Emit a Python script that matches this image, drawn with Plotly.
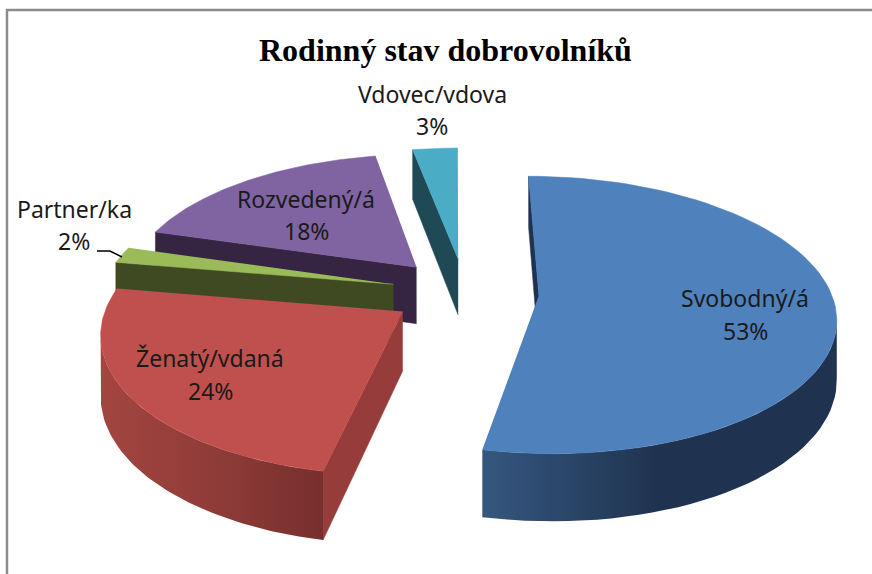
import numpy as np
import plotly.graph_objects as go

categories = ["Svobodný/á", "Ženatý/vdaná", "Partner/ka", "Rozvedený/á", "Vdovec/vdova"]
values = [53.3, 24.4, 1.9, 17.5, 2.9]
top_colors = ["#4f81bd", "#c0504d", "#9bbb59", "#8064a2", "#4bacc6"]
side_colors = ["#1f3350", "#963d3b", "#3f4a23", "#352542", "#1f4a55"]
wall_gradients = [
    ["#35577f", "#1f3350", "#1f3350"],
    ["#a4453f", "#8f3c39", "#772f2d"],
    ["#3f4a23", "#3f4a23", "#3f4a23"],
    ["#352542", "#352542", "#352542"],
    ["#1f4a55", "#1f4a55", "#1f4a55"],
]
title_text = "Rodinný stav dobrovolníků"
name_xy = [(745, 298), (210, 358), (74, 209), (306, 199), (432, 94)]
pct_xy = [(745, 331), (210, 391), (74, 241), (306, 231), (432, 126)]

# projection of the tilted disc
W, H = 872, 574
VX, CX, CY = 455, 465, 292
D, A, R, E, DEPTH = 2096.0, 969.0, 292.0, 74.0, 58.0
VY = CY - A


def project(x, z, drop=0.0):
    s = D / (D + z)
    return VX + (x + CX - VX) * s, VY + (A + drop) * s


def area(xs, ys):
    return 0.5 * sum(xs[i] * ys[(i + 1) % len(xs)] - xs[(i + 1) % len(xs)] * ys[i] for i in range(len(xs)))


fig = go.Figure()
fracs = np.array(values) / sum(values)
ends = np.cumsum(fracs) * 360
starts = ends - fracs * 360


def poly(xs, ys, color, grad=None):
    kw = dict(x=list(xs), y=list(ys), mode="lines", line=dict(width=0.5, color=color),
              fill="toself", hoverinfo="skip", showlegend=False)
    if grad is None:
        kw["fillcolor"] = color
    else:
        kw["fillgradient"] = dict(type="horizontal", colorscale=[[0, grad[0]], [0.5, grad[1]], [1, grad[2]]])
        kw["line"] = dict(width=0)
    fig.add_trace(go.Scatter(**kw))


for i in [4, 3, 2, 1, 0]:
    a0, a1 = np.radians(starts[i]), np.radians(ends[i])
    mid = (a0 + a1) / 2
    ox, oz = E * np.sin(mid), E * np.cos(mid)
    th = np.linspace(a0, a1, 80)
    ax, az = ox + R * np.sin(th), oz + R * np.cos(th)

    # radial walls
    for t in (a0, a1):
        ex, ez = ox + R * np.sin(t), oz + R * np.cos(t)
        p = [project(ox, oz), project(ex, ez), project(ex, ez, DEPTH), project(ox, oz, DEPTH)]
        xs, ys = zip(*p)
        sign = area(xs, ys) * (1 if t == a0 else -1)
        if sign < 0:
            poly(xs, ys, side_colors[i])

    # outer wall: only the part turned to the camera
    tx, ty = project(ax, az)
    bx, by = project(ax, az, DEPTH)
    vis = [k for k in range(len(th) - 1)
           if area([tx[k], tx[k + 1], bx[k + 1], bx[k]], [ty[k], ty[k + 1], by[k + 1], by[k]]) < 0]
    if vis:
        idx = np.arange(vis[0], vis[-1] + 2)
        poly(list(tx[idx]) + list(bx[idx][::-1]), list(ty[idx]) + list(by[idx][::-1]),
             side_colors[i], wall_gradients[i] if i < 2 else None)

    # top face
    cx_, cy_ = project(ox, oz)
    poly([cx_] + list(tx), [cy_] + list(ty), top_colors[i])

ann = [dict(x=445, y=50, xref="x", yref="y", text="<b>%s</b>" % title_text, showarrow=False,
            font=dict(family="Liberation Serif", size=32, color="#000000"))]
label_font = dict(family="Noto Sans", size=23, color="#1a1a1a")
for c, v, (nx, ny), (px, py) in zip(categories, values, name_xy, pct_xy):
    ann.append(dict(x=nx, y=ny, xref="x", yref="y", text=c, showarrow=False, font=label_font))
    ann.append(dict(x=px, y=py, xref="x", yref="y", text="%d%%" % round(v + 1e-6), showarrow=False, font=label_font))

fig.update_layout(
    width=W, height=H, margin=dict(l=0, r=0, t=0, b=0), autosize=False,
    paper_bgcolor="#ffffff", plot_bgcolor="#ffffff", showlegend=False,
    xaxis=dict(range=[0, W], visible=False, fixedrange=True),
    yaxis=dict(range=[H, 0], visible=False, fixedrange=True),
    annotations=ann,
    shapes=[
        dict(type="path", path="M 7 574 L 7 10 L 872 10", line=dict(color="#8c8c8c", width=2.5), layer="below"),
        dict(type="path", path="M 97 251 L 110 251 L 122 257", line=dict(color="#000000", width=1.5)),
    ],
)
fig.write_html("out.html", config=dict(displayModeBar=False),
               post_script="document.body.style.margin='0';document.body.style.overflow='hidden';")
